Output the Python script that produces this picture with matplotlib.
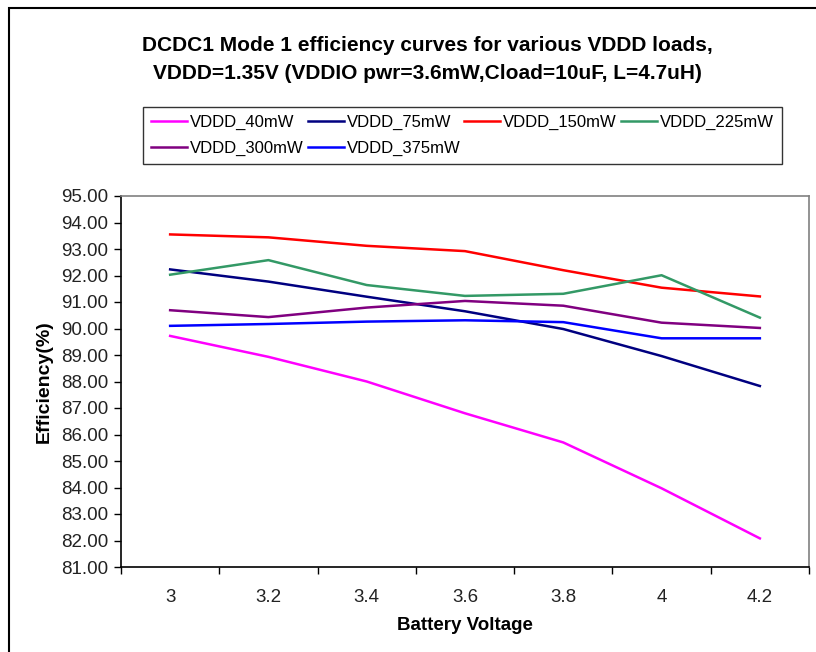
"""DCDC1 Mode 1 efficiency vs. battery voltage for several VDDD loads."""

import matplotlib.pyplot as plt
from matplotlib.patches import Rectangle
from matplotlib.ticker import FixedLocator, FormatStrFormatter

plt.rcParams["font.family"] = ["Liberation Sans", "DejaVu Sans"]

battery_voltage = ["3", "3.2", "3.4", "3.6", "3.8", "4", "4.2"]

vddd_40mw = [89.72, 88.93, 88.00, 86.80, 85.70, 83.97, 82.08]
vddd_75mw = [92.23, 91.77, 91.20, 90.65, 89.98, 88.96, 87.83]
vddd_150mw = [93.55, 93.44, 93.12, 92.92, 92.20, 91.54, 91.21]
vddd_225mw = [92.03, 92.58, 91.64, 91.23, 91.31, 92.01, 90.41]
vddd_300mw = [90.69, 90.43, 90.79, 91.04, 90.86, 90.22, 90.02]
vddd_375mw = [90.10, 90.17, 90.26, 90.31, 90.24, 89.63, 89.63]

series = [
    ("VDDD_40mW", vddd_40mw, "#FF00FF"),
    ("VDDD_75mW", vddd_75mw, "#000080"),
    ("VDDD_150mW", vddd_150mw, "#FF0000"),
    ("VDDD_225mW", vddd_225mw, "#339966"),
    ("VDDD_300mW", vddd_300mw, "#800080"),
    ("VDDD_375mW", vddd_375mw, "#0000FF"),
]

fig = plt.figure(figsize=(8.16, 6.52), dpi=100)
ax = fig.add_axes([121 / 816, 1 - 567 / 652, 688 / 816, 371 / 652])

x = list(range(len(battery_voltage)))
handles = {}
for name, values, color in series:
    (line,) = ax.plot(x, values, color=color, linewidth=1.8, label=name)
    handles[name] = line

# category axis: labels centred in each slot, tick marks on slot boundaries
ax.set_xlim(-0.5, len(battery_voltage) - 0.5)
ax.set_xticks(x)
ax.set_xticklabels(battery_voltage)
ax.xaxis.set_minor_locator(FixedLocator([i - 0.5 for i in range(len(x) + 1)]))
ax.tick_params(axis="x", which="major", length=0, pad=16, labelsize=13.5,
               labelcolor="#222222")
ax.tick_params(axis="x", which="minor", length=5, direction="out", width=1)

ax.set_ylim(81, 95)
ax.set_yticks(range(81, 96))
ax.yaxis.set_major_formatter(FormatStrFormatter("%.2f"))
ax.tick_params(axis="y", length=5, direction="out", width=1, labelsize=13.5,
               pad=4, labelcolor="#222222")

for side in ("top", "right"):
    ax.spines[side].set_color("#808080")
    ax.spines[side].set_linewidth(1.2)
for side in ("left", "bottom"):
    ax.spines[side].set_color("black")
    ax.spines[side].set_linewidth(1.2)

ax.set_xlabel("Battery Voltage", fontsize=13.5, fontweight="bold", labelpad=8)
ax.set_ylabel("Efficiency(%)", fontsize=14, fontweight="bold", labelpad=6)

fig.text(427 / 816, 1 - 59.5 / 652,
         "DCDC1 Mode 1 efficiency curves for various VDDD loads,\n"
         "VDDD=1.35V (VDDIO pwr=3.6mW,Cload=10uF, L=4.7uH)",
         ha="center", va="center", fontsize=15, fontweight="bold",
         linespacing=1.55)

# legend rows read left to right, so order handles column by column
order = ["VDDD_40mW", "VDDD_300mW", "VDDD_75mW", "VDDD_375mW",
         "VDDD_150mW", "VDDD_225mW"]
leg = fig.legend([handles[n] for n in order], order, ncol=4,
                 loc="center", bbox_to_anchor=(462.5 / 816, 1 - 135.5 / 652),
                 fontsize=12, frameon=True, fancybox=False,
                 handlelength=2.15, handletextpad=0.18, columnspacing=0.25,
                 borderpad=0.45, labelspacing=0.7)
leg.get_frame().set_edgecolor("black")
leg.get_frame().set_linewidth(1.0)

# outer chart border
fig.patches.append(Rectangle((9 / 816, -0.2), 1.2, 1.2 - 8 / 652,
                             transform=fig.transFigure, fill=False,
                             edgecolor="black", linewidth=1.5))

fig.savefig("out.png", dpi=100, facecolor="white")
